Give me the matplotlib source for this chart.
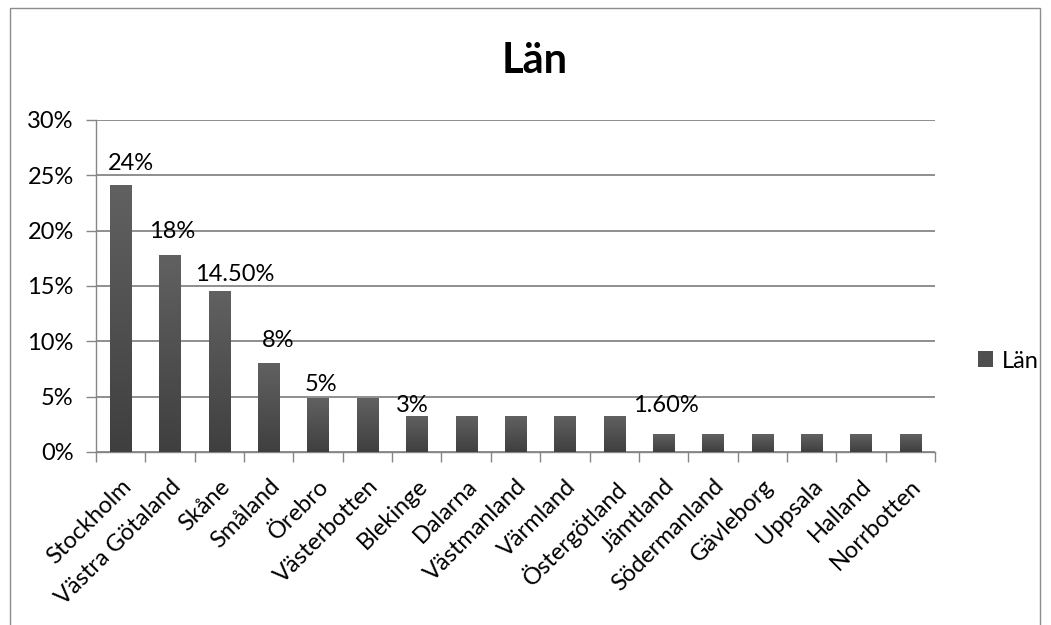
import matplotlib
matplotlib.use("Agg")
import matplotlib.pyplot as plt
import numpy as np
from matplotlib.patches import Rectangle, Patch
from matplotlib.ticker import FuncFormatter
from matplotlib.colors import LinearSegmentedColormap

categories = ["Stockholm", "Västra Götaland", "Skåne", "Småland", "Örebro",
              "Västerbotten", "Blekinge", "Dalarna", "Västmanland", "Värmland",
              "Östergötland", "Jämtland", "Södermanland", "Gävleborg", "Uppsala",
              "Halland", "Norrbotten"]
values = [24.1, 17.8, 14.5, 8.0, 4.8, 4.8, 3.2, 3.2, 3.2, 3.2, 3.2,
          1.6, 1.6, 1.6, 1.6, 1.6, 1.6]
data_labels = ["24%", "18%", "14.50%", "8%", "5%", None, "3%", None, None, None, None,
               "1.60%", None, None, None, None, None]
yticks = [0, 5, 10, 15, 20, 25, 30]
title = "Län"
series_name = "Län"

# manual label placement offsets in pixels (dx, dy) relative to bar top
label_offsets = [(10, 22), (2.5, 23.5), (15, 17.5), (9.5, 23), (2.5, 14.5), (0, 0),
                 (-4.5, 11), (0, 0), (0, 0), (0, 0), (0, 0), (2, 29),
                 (0, 0), (0, 0), (0, 0), (0, 0), (0, 0)]

plt.rcParams['font.family'] = ['Lato', 'DejaVu Sans']
FS = 17
GRID = "#868686"
BAR = "#4f4f4f"

fig = plt.figure(figsize=(10.51, 6.25), dpi=100)
fig.patches.append(Rectangle((10/1051, -0.1), (1040-10)/1051, 1.1 - 8/625,
                             transform=fig.transFigure, fill=False,
                             edgecolor="#8c8c8c", linewidth=1.0))

ax = fig.add_axes([96/1051, 1 - 452/625, (935-96)/1051, (452-120)/625])
x = np.arange(len(categories))
bars = ax.bar(x, values, width=0.43, color=BAR, zorder=3, label=series_name)

grad = np.linspace(0, 1, 256).reshape(-1, 1)
cmap = LinearSegmentedColormap.from_list("g", ["#3f3f3f", "#616161"])
for b in bars:
    bx, by = b.get_x(), b.get_y()
    w, h = b.get_width(), b.get_height()
    ax.imshow(grad, extent=(bx, bx + w, by, by + h), origin="lower",
              cmap=cmap, aspect="auto", zorder=3.5, interpolation="bilinear")

for xi, v, lab, off in zip(x, values, data_labels, label_offsets):
    if lab:
        ax.annotate(lab, (xi, v), xytext=off, textcoords="offset pixels",
                    ha="center", va="center", fontsize=FS, color="black", zorder=5)

ax.set_xlim(-0.5, len(categories) - 0.5)
ax.set_ylim(0, 30)
ax.set_yticks(yticks)
ax.yaxis.set_major_formatter(FuncFormatter(lambda v, p: f"{int(v)}%"))
ax.grid(axis="y", color=GRID, linewidth=1.3, zorder=0)
ax.set_axisbelow(True)

ax.set_xticks(x)
ax.set_xticklabels(categories, rotation=45, ha="right", rotation_mode="anchor",
                   fontsize=FS)
ax.tick_params(axis="x", which="major", length=0, pad=17)
ax.set_xticks(np.arange(-0.5, len(categories)), minor=True)
ax.tick_params(axis="x", which="minor", length=7, color=GRID, width=1)
ax.tick_params(axis="y", length=7, color=GRID, width=1, labelsize=FS, pad=9)

for s in ["top", "right"]:
    ax.spines[s].set_visible(False)
for s in ["left", "bottom"]:
    ax.spines[s].set_color(GRID)
    ax.spines[s].set_linewidth(1)

fig.text(535/1051, 1 - 73/625, title, ha="center", va="baseline",
         fontsize=30, fontweight="bold")

fig.legend(handles=[Patch(facecolor=BAR, label=series_name)],
           loc="center left", bbox_to_anchor=(978/1051, 1 - 361/625),
           frameon=False, fontsize=FS, handlelength=0.64, handleheight=0.64,
           handletextpad=0.38, borderpad=0, borderaxespad=0)

fig.savefig("out.png", dpi=100)
